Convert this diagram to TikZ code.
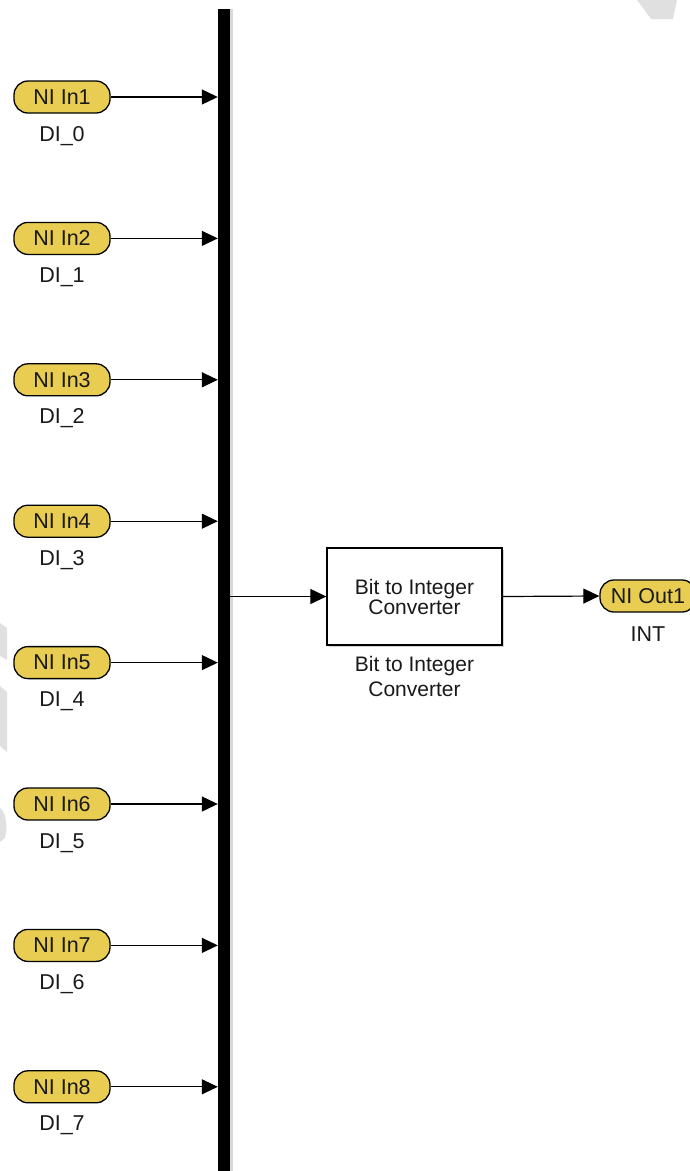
\documentclass[tikz,border=0pt]{standalone}
\usepackage{fontspec}
\setmainfont{Liberation Sans}
\usetikzlibrary{arrows.meta,positioning,shadows}

\definecolor{portyellow}{RGB}{233,205,82}
\definecolor{inkgrey}{RGB}{25,25,25}
\definecolor{markgrey}{RGB}{224,224,224}

\tikzset{
  port/.style={draw=black, line width=1.3pt, fill=portyellow, rounded corners=14pt,
    minimum width=96pt, minimum height=32pt, inner sep=0pt, text=inkgrey,
    font=\fontsize{21.5}{22}\selectfont},
  portlbl/.style={anchor=base, inner sep=0pt, text=inkgrey, font=\fontsize{21.5}{22}\selectfont},
  blk/.style={draw=black, line width=1.3pt, fill=white, minimum width=175pt,
    minimum height=97pt, align=center, text=inkgrey, font=\fontsize{21}{20}\selectfont,
    drop shadow={shadow xshift=2pt, shadow yshift=-2pt, opacity=.35}},
  sig/.style={line width=1.2pt, -{Triangle[length=16pt,width=15pt]}},
}

\begin{document}
\begin{tikzpicture}[x=1pt, y=-1pt]
  \useasboundingbox (0,0) rectangle (689,1171);

  % faint marks along the edges
  \fill[markgrey] (637,0) -- (677,0) -- (673,19) -- (651,19) -- cycle;
  \fill[markgrey] (0,623) -- (7,628) -- (7,660) -- (0,656) -- cycle;
  \fill[markgrey] (0,686) -- (7,692) -- (7,752) -- (0,746) -- cycle;
  \fill[markgrey] (0,808) .. controls (6,812) and (8,826) .. (5,838) -- (0,842) -- cycle;

  % the bus bar
  \node[fill=black, minimum width=12pt, minimum height=1176pt, inner sep=0pt,
    drop shadow={shadow xshift=3pt, shadow yshift=0pt, opacity=.3}] (bus) at (224,597) {};

  % inports DI_0 ... DI_7
  \foreach \i in {1,...,8}{
    \pgfmathsetmacro{\py}{97+141.4*(\i-1)}
    \pgfmathtruncatemacro{\k}{\i-1}
    \node[port] (in\i) at (62,\py) {NI In\i};
    \node[portlbl] (di\i) at (62,\py+44) {DI\_\k};
    \draw[sig] (in\i.east) -- (in\i.east -| bus.west);
  }

  % converter and outport
  \node[blk] (conv) at (414.5,596.5) {Bit to Integer\\Converter};
  \node[portlbl, anchor=center, align=center, font=\fontsize{21}{25}\selectfont] (convlbl)
    at (414.5,676) {Bit to Integer\\Converter};
  \node[port] (out1) at (648,596) {NI Out1};
  \node[portlbl] (intlbl) at (648,641) {INT};

  \draw[sig] (bus.east |- conv.west) -- (conv.west);
  \draw[sig] (conv.east) -- (out1.west);
\end{tikzpicture}
\end{document}
